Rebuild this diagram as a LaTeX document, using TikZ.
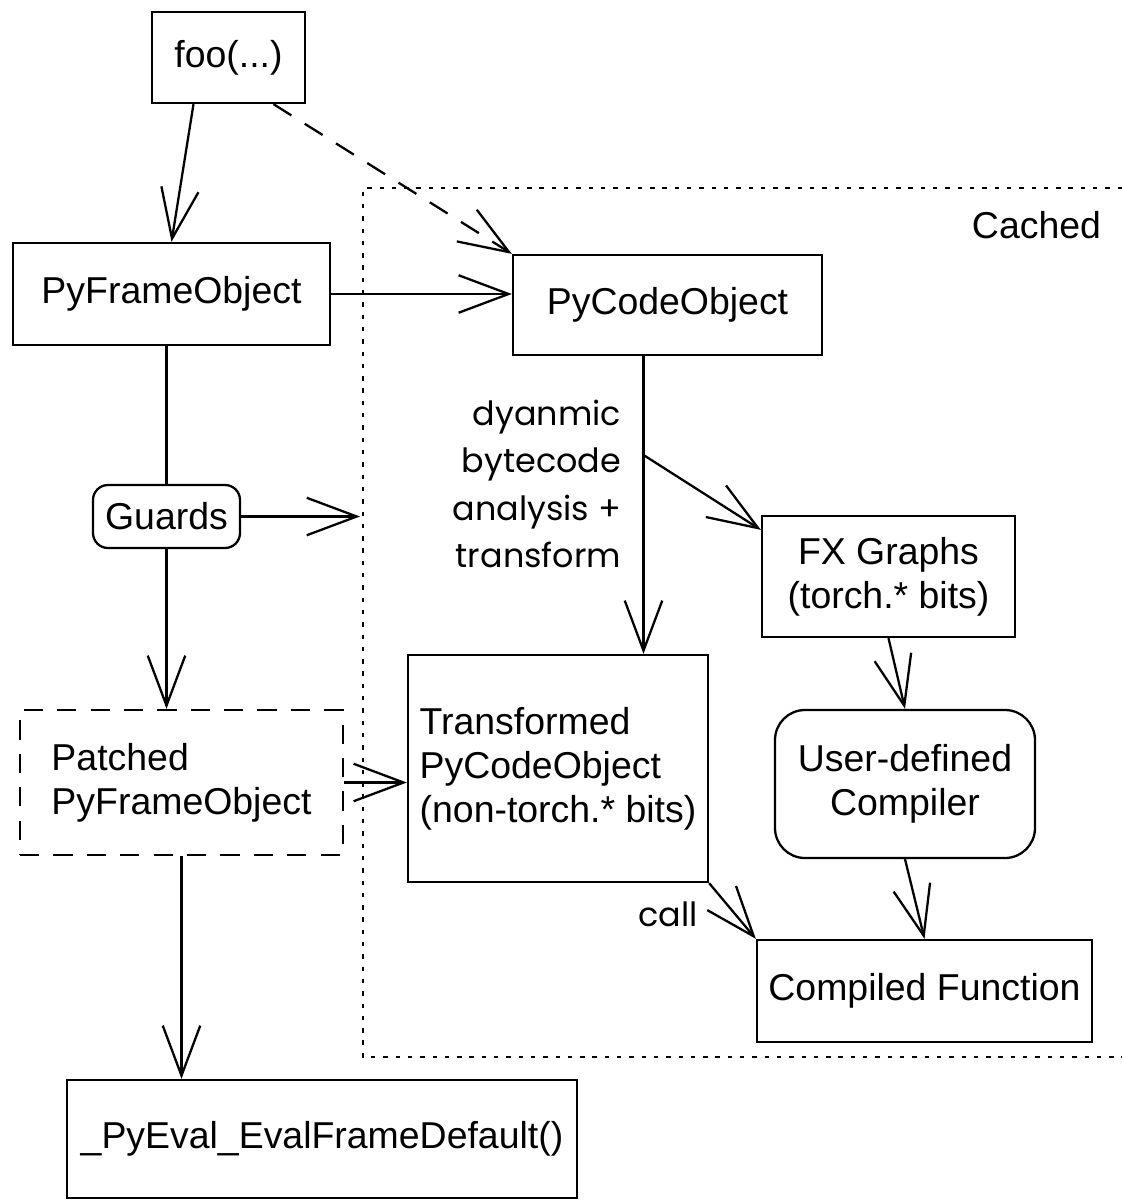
\documentclass[tikz,border=0pt]{standalone}
\usepackage{fontspec}
\setmainfont{Liberation Sans}
\newfontfamily\ecrit{Poppins}
\usetikzlibrary{arrows.meta}

\begin{document}
\begin{tikzpicture}[line width=1.3pt, font=\fontsize{21.3}{25}\selectfont]
\tikzstyle{bloc} = [draw, rectangle, inner sep=0pt, align=center];
\tikzstyle{rond} = [bloc, rounded corners=3mm];
\tikzstyle{fleche} = [-{Straight Barb[length=10mm,width=7.5mm]}];
\tikzstyle{main} = [font=\ecrit\fontsize{19}{27}\selectfont];
\useasboundingbox (0,0) rectangle (22.44,-24.04);

% zone en cache
\draw[dash pattern=on 2.5pt off 4.5pt] (22.44,-3.76) -- (7.26,-3.76) -- (7.26,-21.14) -- (22.44,-21.14);
\node[anchor=east] (cached) at (22.16,-4.5) {Cached};

\node[bloc, minimum width=3.06cm, minimum height=1.82cm] (foo) at (4.57,-1.15) {foo(...)};
\node[bloc, minimum width=6.34cm, minimum height=2.04cm] (frame) at (3.43,-5.88) {PyFrameObject};
\node[bloc, minimum width=6.18cm, minimum height=2cm] (code) at (13.35,-6.10) {PyCodeObject};
\node[rond, minimum width=2.94cm, minimum height=1.26cm] (guards) at (3.33,-10.33) {Guards};
\node[bloc, dash pattern=on 11pt off 8pt, align=left, minimum width=6.46cm, minimum height=2.9cm] (patched) at (3.63,-15.65) {Patched\\PyFrameObject};
\node[bloc, minimum width=10.2cm, minimum height=2.36cm] (eval) at (6.44,-22.78) {\_PyEval\_EvalFrameDefault()};
\node[bloc, align=left, minimum width=6cm, minimum height=4.54cm] (transformed) at (11.16,-15.37) {Transformed\\PyCodeObject\\(non-torch.* bits)};
\node[bloc, minimum width=5.06cm, minimum height=2.42cm] (fx) at (17.77,-11.53) {FX Graphs\\(torch.* bits)};
\node[bloc, rounded corners=6mm, minimum width=5.2cm, minimum height=2.96cm] (compiler) at (18.10,-15.68) {User-defined\\Compiler};
\node[bloc, minimum width=6.7cm, minimum height=2.04cm] (compiled) at (18.49,-19.82) {Compiled Function};
\node[main, anchor=east, align=right] (analyse) at (12.56,-9.68) {dyanmic\\bytecode\\analysis +\\transform};

\coordinate (gd) at (7.2,-10.33);
\coordinate (br) at (12.87,-9.1);

\draw[fleche] ([xshift=-7mm]foo.south) -- (frame.north);
\draw[fleche, dash pattern=on 12pt off 9pt] ([xshift=9mm]foo.south) -- (code.north west);
\draw[fleche] (frame.east) -- (frame.east -| code.west);
\draw (guards.north |- frame.south) -- (guards.north);
\draw[fleche] (guards.east) -- (gd);
\draw[fleche] (guards.south) -- (guards.south |- patched.north);
\draw[fleche] (patched.east) -- (patched.east -| transformed.west);
\draw[fleche] (patched.south) -- (patched.south |- eval.north);
\draw[fleche] ([xshift=-4.8mm]code.south) -- ([xshift=-4.8mm]code.south |- transformed.north);
\draw[fleche] (br) -- ([yshift=-3mm]fx.north west);
\draw[fleche] (fx.south) -- (compiler.north);
\draw[fleche] (compiler.south) -- (compiled.north);
\draw[fleche] (transformed.south east) -- node[main, pos=0.55, left=6mm] {call} (compiled.north west);
\end{tikzpicture}
\end{document}
